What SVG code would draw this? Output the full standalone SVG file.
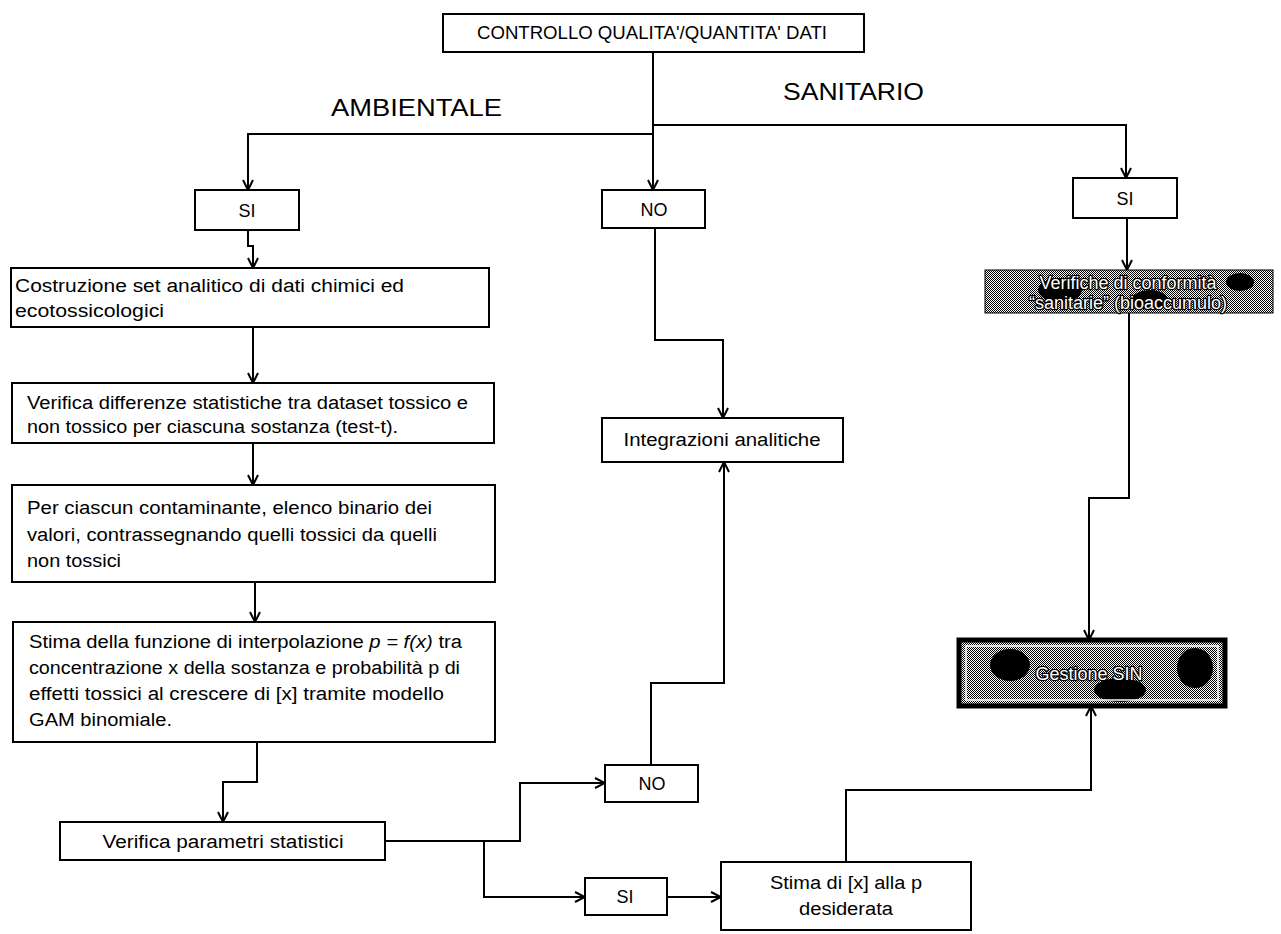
<svg xmlns="http://www.w3.org/2000/svg" width="1281" height="934" viewBox="0 0 1281 934">
<defs>
<style>
.box{fill:#fff;stroke:#000;stroke-width:2}
.t{font-family:"Liberation Sans",Arial,sans-serif;font-size:18px;fill:#000}
.c{text-anchor:middle}
.w{fill:#fff;stroke:#000;stroke-width:2.5px;paint-order:stroke;stroke-linejoin:round}
.big{font-family:"Liberation Sans",Arial,sans-serif;font-size:24px;fill:#000}
.con{fill:none;stroke:#000;stroke-width:2;marker-end:url(#ah)}
</style>
<marker id="ah" viewBox="0 0 12 12" refX="11" refY="6" markerWidth="12" markerHeight="12" markerUnits="userSpaceOnUse" orient="auto">
<path d="M1,1 L11,6 L1,11" fill="none" stroke="#000" stroke-width="2"/>
</marker>
<pattern id="dith" width="2" height="2" patternUnits="userSpaceOnUse">
<rect width="2" height="2" fill="#fff"/>
<rect width="1" height="1" fill="#000"/>
<rect x="1" y="1" width="1" height="1" fill="#000"/>
</pattern>
</defs>

<g id="labels">
<text class="big" x="331" y="116" textLength="171" lengthAdjust="spacingAndGlyphs">AMBIENTALE</text>
<text class="big" x="783" y="100" textLength="141" lengthAdjust="spacingAndGlyphs">SANITARIO</text>
</g>

<g id="connectors">
<path class="con" d="M653,52 V190"/>
<path class="con" d="M653,134 H248 V190"/>
<path class="con" d="M653,125 H1126 V178"/>
<path class="con" d="M248,230 V246 H253 V268"/>
<path class="con" d="M253,327 V383"/>
<path class="con" d="M253,443 V485"/>
<path class="con" d="M255,582 V622"/>
<path class="con" d="M257,742 V782 H223 V822"/>
<path class="con" d="M655,228 V340 H723 V418"/>
<path class="con" d="M385,841 H520 V783 H605"/>
<path class="con" d="M484,841 V897 H585"/>
<path class="con" d="M667,897 H721"/>
<path class="con" d="M846,862 V790 H1091 V706"/>
<path class="con" d="M651,765 V683 H724 V462"/>
<path class="con" d="M1127,218 V270"/>
<path class="con" d="M1129,313 V498 H1089 V640"/>
</g>

<g id="n-controllo">
<rect class="box" x="443" y="14" width="421" height="38"/>
<text class="t c" x="652" y="39" font-size="17" textLength="350" lengthAdjust="spacingAndGlyphs">CONTROLLO QUALITA'/QUANTITA' DATI</text>
</g>

<g id="n-si-amb">
<rect class="box" x="195" y="190" width="104" height="40"/>
<text class="t c" x="247" y="217">SI</text>
</g>

<g id="n-no-top">
<rect class="box" x="602" y="190" width="103" height="38"/>
<text class="t c" x="654" y="216">NO</text>
</g>

<g id="n-si-san">
<rect class="box" x="1073" y="178" width="104" height="40"/>
<text class="t c" x="1125" y="205">SI</text>
</g>

<g id="n-costruzione">
<rect class="box" x="11" y="268" width="478" height="59"/>
<text class="t" x="15" y="292" textLength="389" lengthAdjust="spacingAndGlyphs">Costruzione set analitico di dati chimici ed</text>
<text class="t" x="15" y="317" textLength="149" lengthAdjust="spacingAndGlyphs">ecotossicologici</text>
</g>

<g id="n-verifica-diff">
<rect class="box" x="12" y="383" width="482" height="60"/>
<text class="t" x="27" y="409" textLength="441" lengthAdjust="spacingAndGlyphs">Verifica differenze statistiche tra dataset tossico e</text>
<text class="t" x="27" y="433" textLength="371" lengthAdjust="spacingAndGlyphs">non tossico per ciascuna  sostanza (test-t).</text>
</g>

<g id="n-per-ciascun">
<rect class="box" x="12" y="485" width="483" height="97"/>
<text class="t" x="27" y="514" textLength="405" lengthAdjust="spacingAndGlyphs">Per ciascun contaminante, elenco binario  dei</text>
<text class="t" x="27" y="541" textLength="410" lengthAdjust="spacingAndGlyphs">valori, contrassegnando quelli tossici da quelli</text>
<text class="t" x="27" y="567" textLength="94" lengthAdjust="spacingAndGlyphs">non tossici</text>
</g>

<g id="n-stima-funzione">
<rect class="box" x="13" y="622" width="482" height="120"/>
<text class="t" x="29" y="648" textLength="433" lengthAdjust="spacingAndGlyphs">Stima della funzione di interpolazione <tspan font-style="italic">p = f(x)</tspan> tra</text>
<text class="t" x="29" y="674" textLength="431" lengthAdjust="spacingAndGlyphs">concentrazione x della sostanza e probabilità  p di</text>
<text class="t" x="29" y="700" textLength="415" lengthAdjust="spacingAndGlyphs">effetti tossici al crescere di  [x] tramite modello</text>
<text class="t" x="29" y="726" textLength="143" lengthAdjust="spacingAndGlyphs">GAM binomiale.</text>
</g>

<g id="n-verifica-param">
<rect class="box" x="60" y="822" width="325" height="38"/>
<text class="t c" x="223" y="848" textLength="241" lengthAdjust="spacingAndGlyphs">Verifica parametri statistici</text>
</g>

<g id="n-integrazioni">
<rect class="box" x="602" y="418" width="241" height="44"/>
<text class="t c" x="722" y="446" textLength="197" lengthAdjust="spacingAndGlyphs">Integrazioni analitiche</text>
</g>

<g id="n-no-low">
<rect class="box" x="605" y="765" width="93" height="37"/>
<text class="t c" x="652" y="790">NO</text>
</g>

<g id="n-si-low">
<rect class="box" x="585" y="878" width="82" height="37"/>
<text class="t c" x="625" y="903">SI</text>
</g>

<g id="n-stima-x">
<rect class="box" x="721" y="862" width="250" height="68"/>
<text class="t c" x="846" y="889" textLength="152" lengthAdjust="spacingAndGlyphs">Stima di [x] alla p</text>
<text class="t c" x="846" y="915" textLength="94" lengthAdjust="spacingAndGlyphs">desiderata</text>
</g>

<g id="n-verifiche">
<rect x="985" y="270" width="288" height="43" fill="url(#dith)" stroke="#000" stroke-width="1"/>
<ellipse cx="1060" cy="290" rx="22" ry="12" fill="#000"/>
<ellipse cx="1150" cy="300" rx="18" ry="10" fill="#000"/>
<ellipse cx="1240" cy="282" rx="14" ry="9" fill="#000"/>
<text class="t c w" x="1128" y="289" font-size="17">Verifiche di conformità</text>
<text class="t c w" x="1128" y="309" font-size="17">“sanitarie” (bioaccumulo)</text>
</g>

<g id="n-gestione">
<rect x="959" y="640" width="266" height="66" fill="url(#dith)" stroke="#000" stroke-width="5"/>
<ellipse cx="1010" cy="665" rx="20" ry="16" fill="#000"/>
<ellipse cx="1120" cy="690" rx="26" ry="12" fill="#000"/>
<ellipse cx="1195" cy="668" rx="18" ry="20" fill="#000"/>
<rect x="966" y="646" width="252" height="54" fill="none" stroke="#fff" stroke-width="1.5"/>
<text class="t c w" x="1089" y="680">Gestione SIN</text>
</g>
</svg>
